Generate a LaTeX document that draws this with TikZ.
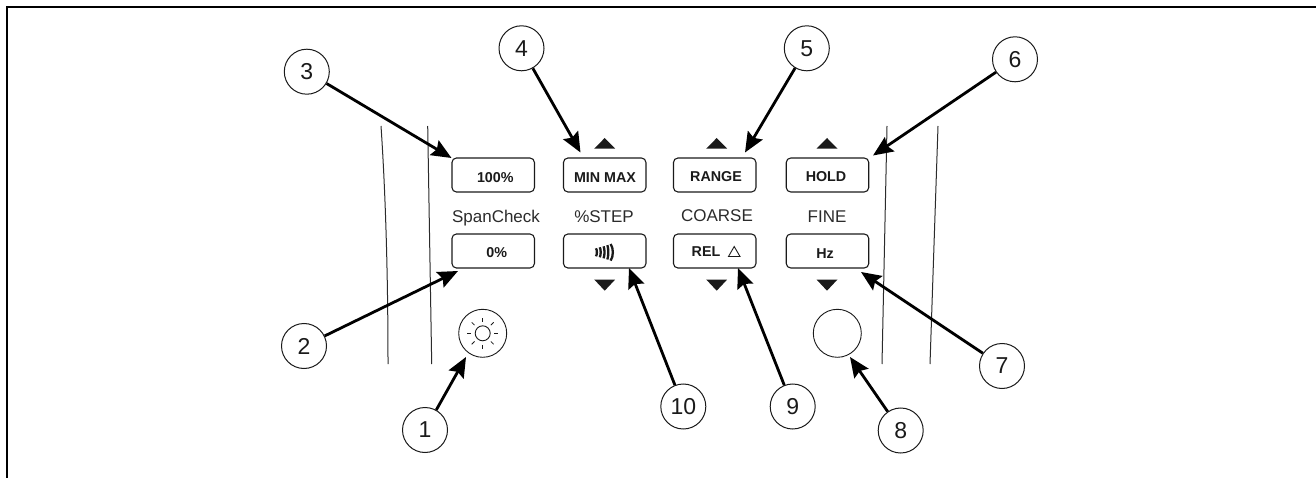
\documentclass[tikz,border=0pt]{standalone}
\usepackage{fontspec}
\setmainfont{Liberation Sans}
\usetikzlibrary{arrows.meta,calc}
\definecolor{ink}{HTML}{1A1A1A}
\definecolor{soft}{HTML}{2B2B2B}
\tikzset{
  callout/.style={circle,draw=ink,line width=1pt,fill=white,minimum size=45pt,inner sep=0pt,font=\fontsize{23}{23}\selectfont,text=ink},
  pointer/.style={line width=2.8pt,draw=black,-{Stealth[length=20pt,width=17pt,inset=3pt]}},
  keybox/.style={draw=ink,line width=1.1pt,rounded corners=4.5pt,minimum width=82.5pt,minimum height=34pt,inner sep=0pt},
  keytext/.style={font=\fontsize{14.3}{14.3}\selectfont\bfseries,text=ink,inner sep=0pt},
  legend/.style={font=\fontsize{17}{17}\selectfont,text=soft,inner sep=0pt,anchor=base},
  wall/.style={draw=soft,line width=1pt},
  wedge/.style={fill=ink,draw=none},
  lamp/.style={draw=ink,line width=0.9pt,fill=white,circle,minimum size=48pt,inner sep=0pt},
  ray/.style={draw=ink,line width=0.8pt},
}
\begin{document}
\begin{tikzpicture}[x=1pt,y=-1pt]
\useasboundingbox (0,0) rectangle (1316,478);
\draw[line width=2.4pt,black] (7,478) -- (7,7) -- (1316,7);
% walls
\draw[wall] (381,126) .. controls (384,170) and (388,250) .. (388,364);
\draw[wall] (427.7,126) -- (431.7,364);
\draw[wall] (887,126) -- (882,364);
\draw[wall] (938,126) -- (930,364);
% keys
\node[keybox] (k100) at (493.2,175) {};
\node[keybox] (kmm) at (604.7,175) {};
\node[keybox] (krange) at (714.7,175) {};
\node[keybox] (khold) at (827.5,175) {};
\node[keybox] (k0) at (493.2,251) {};
\node[keybox] (kbeep) at (604.7,251) {};
\node[keybox] (krel) at (714.7,251) {};
\node[keybox] (khz) at (827.5,251) {};
\node[keytext] (t100) at (495.3,178) {100\%};
\node[keytext] (tmm) at (605,177.5) {MIN MAX};
\node[keytext] (trange) at (716,176.8) {RANGE};
\node[keytext] (thold) at (826,176.8) {HOLD};
\node[keytext] (t0) at (496.7,252.5) {0\%};
\node[keytext] (threl) at (706,252) {REL};
\node[keytext] (thz) at (825,253.5) {Hz};
\draw[ink,line width=0.9pt,line join=miter] (728.5,256.5) -- (740,256.5) -- (734.2,246.5) -- cycle;
% beeper icon
\foreach \xx/\hh in {596/4,599.8/5,603.6/6,607.4/7.2}
  \draw[ink,line width=2.3pt] (\xx,252.3-\hh) .. controls (\xx+1.2,252.3-\hh/2) and (\xx+1.2,252.3+\hh/2) .. (\xx,252.3+\hh);
\draw[ink,line width=2.3pt] (610.6,244) .. controls (613.6,248) and (613.6,256.6) .. (610.6,260.6);
% legends
\node[legend] (lspan) at (496,222.7) {SpanCheck};
\node[legend] (lstep) at (604,222.7) {\%STEP};
\node[legend] (lcoarse) at (717,221.7) {COARSE};
\node[legend] (lfine) at (827,222.7) {FINE};
% wedges
\foreach \cx in {604.7,716.7,827}{
  \fill[wedge] (\cx-10.5,148.7) -- (\cx+10.5,148.7) -- (\cx,138) -- cycle;
  \fill[wedge] (\cx-10.5,279.5) -- (\cx+10.5,279.5) -- (\cx,290.7) -- cycle;
}
% lamp and blank
\node[lamp] (sun) at (482.7,333.3) {};
\node[lamp] (blank) at (837.3,333.3) {};
\draw[ink,line width=0.9pt] (sun.center) circle (7.5pt);
\foreach \a in {0,45,...,315}
  \draw[ray] ($(sun.center)+(\a:11.5pt)$) -- ($(sun.center)+(\a:15.5pt)$);
% tips
\coordinate (p1) at (466,357);
\coordinate (p2) at (458,271);
\coordinate (p3) at (451.5,158);
\coordinate (p4) at (580.5,152.5);
\coordinate (p5) at (745,152.5);
\coordinate (p6) at (873,155.5);
\coordinate (p7) at (861,272);
\coordinate (p8) at (850,357);
\coordinate (p9) at (738,268);
\coordinate (p10) at (629,268);
% callouts
\node[callout] (c1) at (425,430) {1};
\node[callout] (c2) at (304,346) {2};
\node[callout] (c3) at (306.8,71.7) {3};
\node[callout] (c4) at (521.5,48.3) {4};
\node[callout] (c5) at (806.8,48.3) {5};
\node[callout] (c6) at (1015,59.3) {6};
\node[callout] (c7) at (1002,366) {7};
\node[callout] (c8) at (900.7,430.5) {8};
\node[callout] (c9) at (792.7,406.5) {9};
\node[callout] (c10) at (683.3,406.5) {10};
\foreach \n in {1,...,10}
  \draw[pointer] (c\n) -- (p\n);
\end{tikzpicture}
\end{document}
